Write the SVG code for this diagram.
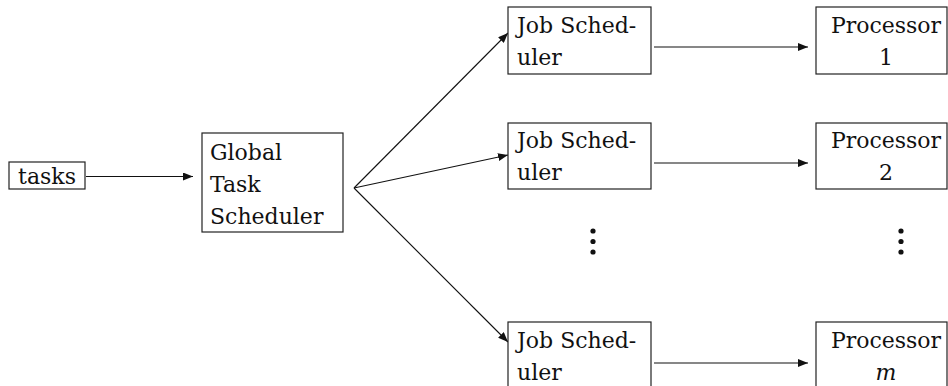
<svg xmlns="http://www.w3.org/2000/svg" width="948" height="386" viewBox="0 0 948 386">
<style>
.box{fill:#fff;stroke:#222;stroke-width:1.2}
.t{font-family:'DejaVu Serif','Liberation Serif',serif;font-size:22px;fill:#111}
.c{text-anchor:middle}
.ln{stroke:#111;stroke-width:1.1;fill:none;marker-end:url(#ah)}
</style>
<defs>
<marker id="ah" viewBox="0 0 10 8" refX="10" refY="4" markerWidth="10" markerHeight="8" markerUnits="userSpaceOnUse" orient="auto">
<path d="M0,0 L10,4 L0,8 Z" fill="#111"/>
</marker>
</defs>
<g id="connectors">
<line class="ln" x1="86" y1="176.5" x2="193" y2="176.5"/>
<line class="ln" x1="354" y1="188" x2="508" y2="33"/>
<line class="ln" x1="354" y1="188" x2="508" y2="155"/>
<line class="ln" x1="354" y1="188" x2="508" y2="342"/>
<line class="ln" x1="654" y1="47" x2="808" y2="47"/>
<line class="ln" x1="654" y1="163" x2="808" y2="163"/>
<line class="ln" x1="654" y1="363" x2="808" y2="363"/>
</g>
<g id="tasks">
<rect class="box" x="9" y="162" width="76" height="27"/>
<text class="t c" x="47" y="184">tasks</text>
</g>
<g id="global">
<rect class="box" x="202" y="133" width="141" height="99"/>
<text class="t" x="210" y="160">Global</text>
<text class="t" x="210" y="192">Task</text>
<text class="t" x="210" y="224">Scheduler</text>
</g>
<g id="js1">
<rect class="box" x="508" y="7" width="143" height="67"/>
<text class="t" x="517" y="33">Job Sched-</text>
<text class="t" x="517" y="65">uler</text>
</g>
<g id="js2">
<rect class="box" x="508" y="123" width="143" height="66"/>
<text class="t" x="517" y="148">Job Sched-</text>
<text class="t" x="517" y="180">uler</text>
</g>
<g id="js3">
<rect class="box" x="508" y="322" width="143" height="70"/>
<text class="t" x="517" y="348">Job Sched-</text>
<text class="t" x="517" y="380">uler</text>
</g>
<g id="p1">
<rect class="box" x="816" y="7" width="131" height="67"/>
<text class="t c" x="886" y="33">Processor</text>
<text class="t c" x="886" y="65">1</text>
</g>
<g id="p2">
<rect class="box" x="816" y="123" width="131" height="66"/>
<text class="t c" x="886" y="148">Processor</text>
<text class="t c" x="886" y="180">2</text>
</g>
<g id="pm">
<rect class="box" x="816" y="322" width="131" height="70"/>
<text class="t c" x="886" y="348">Processor</text>
<text class="t c" x="886" y="380" font-style="italic">m</text>
</g>
<g id="dots-js">
<circle cx="593" cy="231" r="2.6" fill="#111"/>
<circle cx="593" cy="241.5" r="2.6" fill="#111"/>
<circle cx="593" cy="252" r="2.6" fill="#111"/>
</g>
<g id="dots-proc">
<circle cx="901" cy="231" r="2.6" fill="#111"/>
<circle cx="901" cy="241.5" r="2.6" fill="#111"/>
<circle cx="901" cy="252" r="2.6" fill="#111"/>
</g>
</svg>
